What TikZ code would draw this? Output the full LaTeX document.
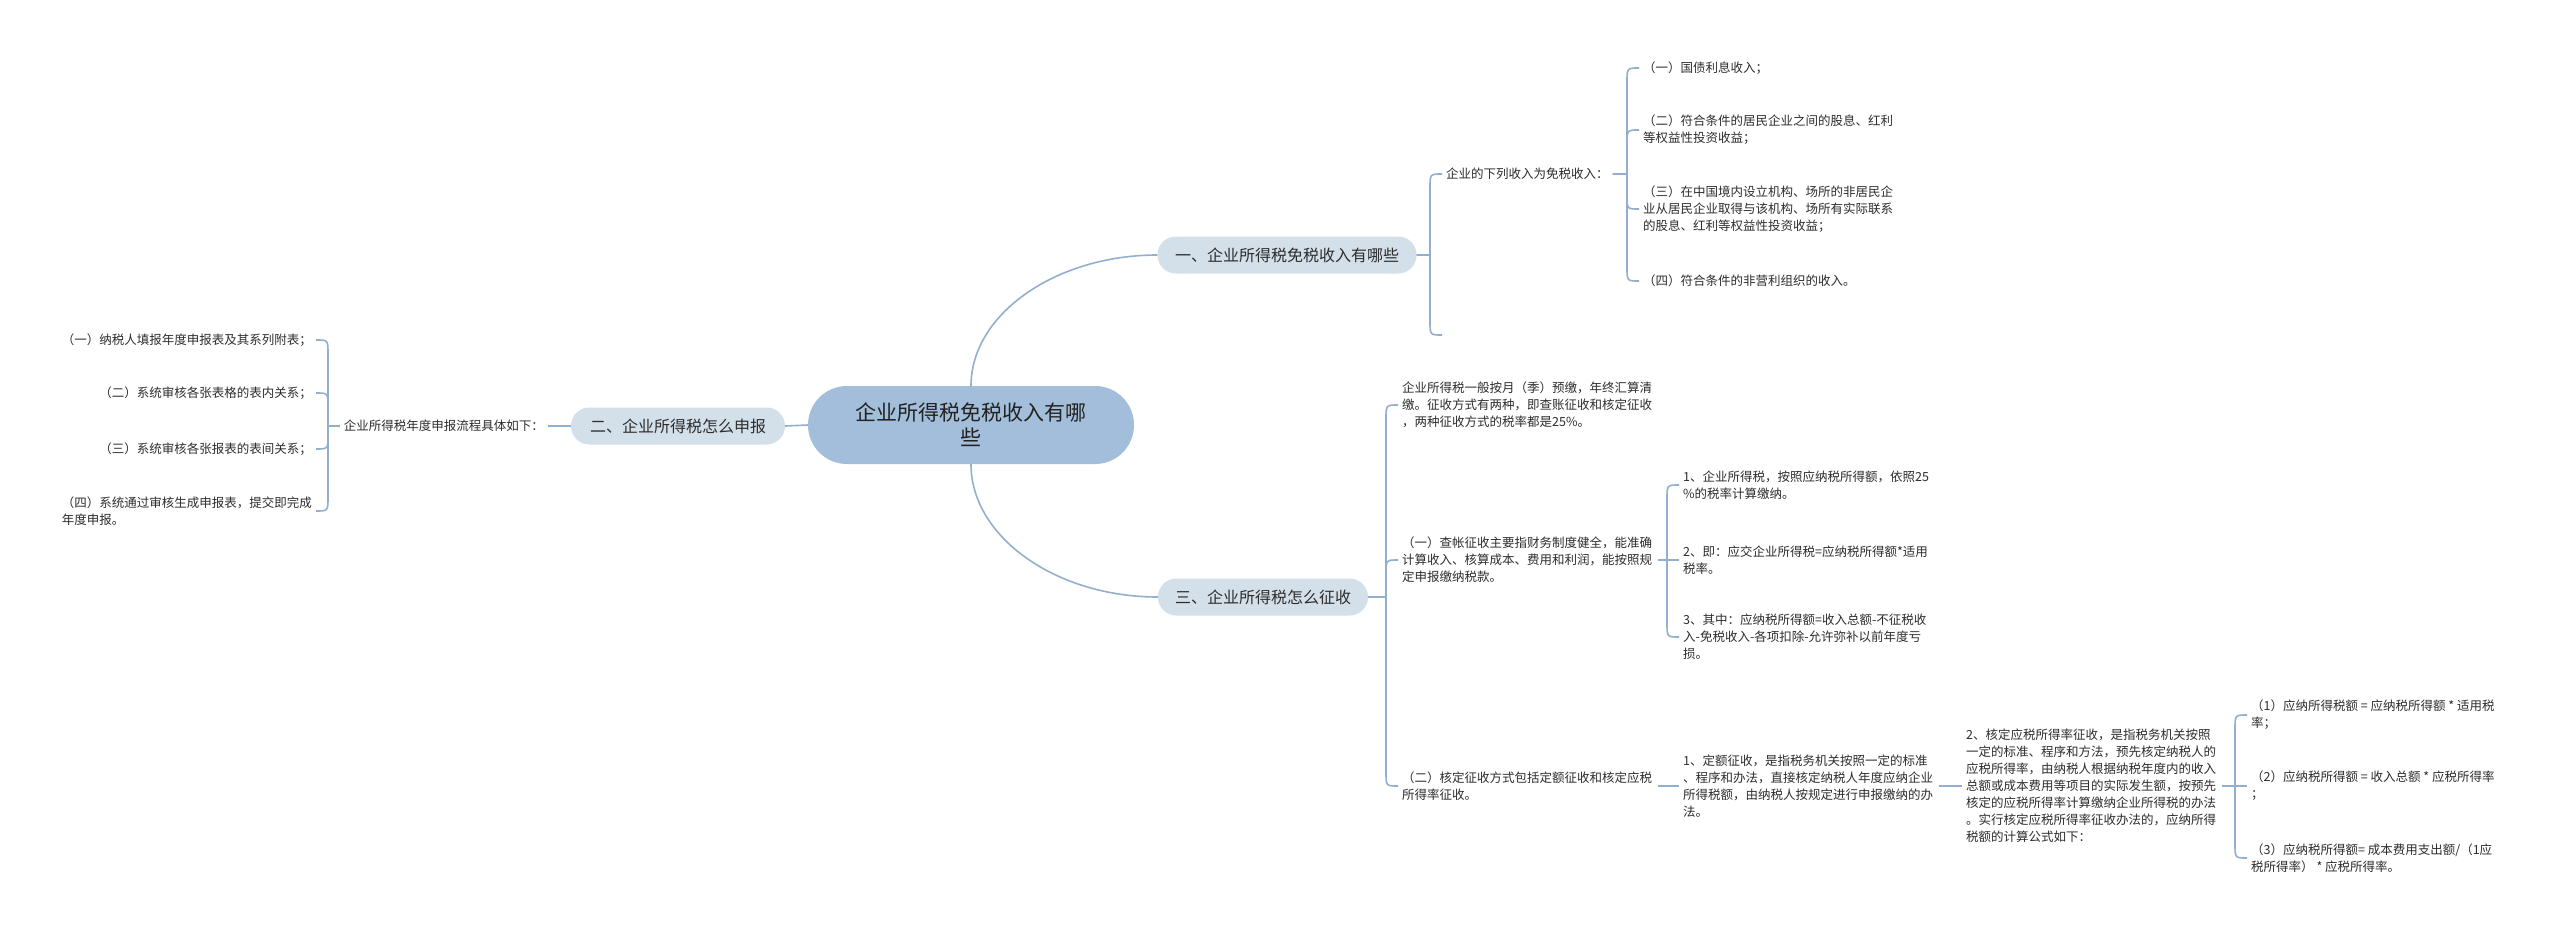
\documentclass[tikz,border=0pt]{standalone}
\usepackage{fontspec}
\setmainfont{Noto Sans CJK SC}
\definecolor{linec}{RGB}{146,176,206}
\definecolor{rootfill}{RGB}{162,190,218}
\definecolor{lvlfill}{RGB}{211,223,233}
\definecolor{txt}{RGB}{45,45,45}
\definecolor{roottxt}{RGB}{34,34,34}
\tikzset{
  conn/.style={draw=linec, line width=1.6pt},
  leaf/.style={font=\fontsize{12.5}{17}\selectfont, text=txt, align=left, inner xsep=4pt, inner ysep=2pt},
  wrapleaf/.style={leaf, text width=252pt},
  lvlone/.style={fill=lvlfill, rounded corners=18.4pt, minimum height=37pt, inner sep=0pt, font=\fontsize{16}{19}\selectfont, text=txt},
  rootnode/.style={fill=rootfill, rounded corners=38.9pt, minimum height=78pt, minimum width=326pt, inner sep=0pt, align=center, font=\fontsize{21}{25}\selectfont, text=roottxt},
}
\begin{document}
\begin{tikzpicture}[x=1pt, y=-1pt]
\fill[white] (0,0) rectangle (2560,932);
\useasboundingbox (0,0) rectangle (2560,932);

% root and level one
\node[rootnode] (root) at (971,425) {企业所得税免税收入有哪\\些};
\node[lvlone, minimum width=259pt] (n1) at (1287,255) {一、企业所得税免税收入有哪些};
\node[lvlone, minimum width=214pt] (n2) at (678,426) {二、企业所得税怎么申报};
\node[lvlone, minimum width=210pt] (n3) at (1263,597) {三、企业所得税怎么征收};

\draw[conn] (root.north) .. controls (971,314) and (1056,255) .. (n1.west);
\draw[conn] (root.south) .. controls (971,537) and (1056,597) .. (n3.west);
\draw[conn] (root.west) -- (n2.east);

% branch one
\node[leaf, anchor=west] (A) at (1442,174) {企业的下列收入为免税收入：};
\coordinate (e1) at (1442,335);
\draw[conn] (n1.east) -- (1430,255) -- (1430,188) .. controls (1430,174) .. (A.west);
\draw[conn] (n1.east) -- (1430,255) -- (1430,321) .. controls (1430,335) .. (e1);

\node[leaf, anchor=west] (a1) at (1639,68) {（一）国债利息收入；};
\node[leaf, anchor=west] (a2) at (1639,130) {（二）符合条件的居民企业之间的股息、红利\\等权益性投资收益；};
\node[leaf, anchor=west] (a3) at (1639,209) {（三）在中国境内设立机构、场所的非居民企\\业从居民企业取得与该机构、场所有实际联系\\的股息、红利等权益性投资收益；};
\node[leaf, anchor=west] (a4) at (1639,281) {（四）符合条件的非营利组织的收入。};
\draw[conn] (A.east) -- (1627,174) -- (1627,82) .. controls (1627,68) .. (a1.west);
\draw[conn] (A.east) -- (1627,174) -- (1627,144) .. controls (1627,130) .. (a2.west);
\draw[conn] (A.east) -- (1627,174) -- (1627,195) .. controls (1627,209) .. (a3.west);
\draw[conn] (A.east) -- (1627,174) -- (1627,267) .. controls (1627,281) .. (a4.west);

% branch two
\node[leaf, anchor=east] (B) at (548,426) {企业所得税年度申报流程具体如下：};
\draw[conn] (n2.west) -- (B.east);
\node[leaf, anchor=east] (b1) at (316,340) {（一）纳税人填报年度申报表及其系列附表；};
\node[leaf, anchor=east] (b2) at (316,393) {（二）系统审核各张表格的表内关系；};
\node[leaf, anchor=east] (b3) at (316,449) {（三）系统审核各张报表的表间关系；};
\node[leaf, anchor=east] (b4) at (316,511) {（四）系统通过审核生成申报表，提交即完成\\年度申报。};
\draw[conn] (B.west) -- (328,426) -- (328,354) .. controls (328,340) .. (b1.east);
\draw[conn] (B.west) -- (328,426) -- (328,407) .. controls (328,393) .. (b2.east);
\draw[conn] (B.west) -- (328,426) -- (328,435) .. controls (328,449) .. (b3.east);
\draw[conn] (B.west) -- (328,426) -- (328,497) .. controls (328,511) .. (b4.east);

% branch three
\node[wrapleaf, anchor=west] (C1) at (1398,405) {企业所得税一般按月（季）预缴，年终汇算清\\缴。征收方式有两种，即查账征收和核定征收\\，两种征收方式的税率都是25\%。};
\node[wrapleaf, anchor=west] (C2) at (1398,560) {（一）查帐征收主要指财务制度健全，能准确\\计算收入、核算成本、费用和利润，能按照规\\定申报缴纳税款。};
\node[wrapleaf, anchor=west] (C3) at (1398,786) {（二）核定征收方式包括定额征收和核定应税\\所得率征收。};
\draw[conn] (n3.east) -- (1386,597) -- (1386,419) .. controls (1386,405) .. (C1.west);
\draw[conn] (n3.east) -- (1386,597) -- (1386,574) .. controls (1386,560) .. (C2.west);
\draw[conn] (n3.east) -- (1386,597) -- (1386,772) .. controls (1386,786) .. (C3.west);

\node[wrapleaf, anchor=west] (D1) at (1679,485) {1、企业所得税，按照应纳税所得额，依照25\\\%的税率计算缴纳。};
\node[wrapleaf, anchor=west] (D2) at (1679,560) {2、即：应交企业所得税=应纳税所得额*适用\\税率。};
\node[wrapleaf, anchor=west] (D3) at (1679,637) {3、其中：应纳税所得额=收入总额-不征税收\\入-免税收入-各项扣除-允许弥补以前年度亏\\损。};
\draw[conn] (C2.east) -- (1667,560) -- (1667,499) .. controls (1667,485) .. (D1.west);
\draw[conn] (C2.east) -- (D2.west);
\draw[conn] (C2.east) -- (1667,560) -- (1667,623) .. controls (1667,637) .. (D3.west);

\node[wrapleaf, anchor=west] (D) at (1679,786) {1、定额征收，是指税务机关按照一定的标准\\、程序和办法，直接核定纳税人年度应纳企业\\所得税额，由纳税人按规定进行申报缴纳的办\\法。};
\draw[conn] (C3.east) -- (D.west);

\node[wrapleaf, anchor=west] (E) at (1962,786) {2、核定应税所得率征收，是指税务机关按照\\一定的标准、程序和方法，预先核定纳税人的\\应税所得率，由纳税人根据纳税年度内的收入\\总额或成本费用等项目的实际发生额，按预先\\核定的应税所得率计算缴纳企业所得税的办法\\。实行核定应税所得率征收办法的，应纳所得\\税额的计算公式如下：};
\draw[conn] (D.east) -- (E.west);

\node[leaf, anchor=west] (F1) at (2247,715) {（1）应纳所得税额 = 应纳税所得额 * 适用税\\率；};
\node[leaf, anchor=west] (F2) at (2247,786) {（2）应纳税所得额 = 收入总额 * 应税所得率\\；};
\node[leaf, anchor=west] (F3) at (2247,858) {（3）应纳税所得额= 成本费用支出额/（1应\\税所得率） * 应税所得率。};
\draw[conn] (E.east) -- (2235,786) -- (2235,729) .. controls (2235,715) .. (F1.west);
\draw[conn] (E.east) -- (F2.west);
\draw[conn] (E.east) -- (2235,786) -- (2235,844) .. controls (2235,858) .. (F3.west);
\end{tikzpicture}
\end{document}
